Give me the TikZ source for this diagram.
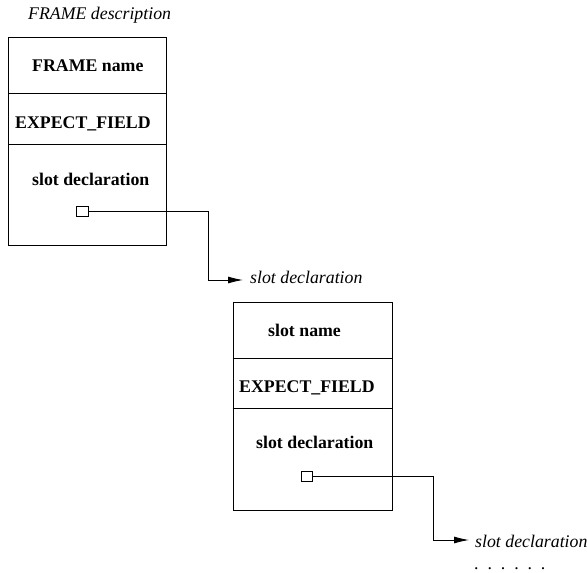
\documentclass[tikz,border=0pt]{standalone}
\usepackage{fontspec}
\setmainfont{Liberation Serif}
\usetikzlibrary{arrows.meta}
\begin{document}
\begin{tikzpicture}[x=1bp,y=-1bp,
  lbl/.style={inner sep=0pt,anchor=base west,font=\fontsize{17.8bp}{20bp}\selectfont\bfseries},
  ilbl/.style={inner sep=0pt,anchor=base west,font=\fontsize{17.8bp}{20bp}\selectfont\itshape},
  framebox/.style={draw,line width=0.9bp,inner sep=0pt,minimum width=158bp,minimum height=208bp},
  port/.style={draw,line width=0.9bp,inner sep=0pt,minimum width=11.5bp,minimum height=10bp},
  conn/.style={line width=0.9bp},
  arr/.style={line width=0.9bp,-{Latex[length=15bp,width=7bp]}}
]
\useasboundingbox (0,0) rectangle (587,573);
% first frame
\node[ilbl] (title) at (28,20) {FRAME description};
\node[framebox] (box1) at (87.5,141) {};
\draw[line width=0.9bp] (box1.west |- 0,93) -- (box1.east |- 0,93);
\draw[line width=0.9bp] (box1.west |- 0,144) -- (box1.east |- 0,144);
\node[lbl] (fname) at (32,72) {FRAME name};
\node[lbl] (ef1) at (15,129) {EXPECT\_FIELD};
\node[lbl] (sd1) at (32,185) {slot declaration};
\node[port] (sq1) at (82.5,211.7) {};
\coordinate (k1) at (208,280);
\coordinate (tip1) at (243,280);
\draw[conn] (sq1.east) -| (k1);
\draw[arr] (k1) -- (tip1);
\node[ilbl] (out1) at (250,283) {slot declaration};
% second frame
\node[framebox,minimum width=159bp] (box2) at (312.5,406) {};
\draw[line width=0.9bp] (box2.west |- 0,358) -- (box2.east |- 0,358);
\draw[line width=0.9bp] (box2.west |- 0,408) -- (box2.east |- 0,408);
\node[lbl] (sname) at (268,336) {slot name};
\node[lbl] (ef2) at (239,392) {EXPECT\_FIELD};
\node[lbl] (sd2) at (256,448) {slot declaration};
\node[port] (sq2) at (307,476) {};
\coordinate (k2) at (433,540);
\coordinate (tip2) at (469,540);
\draw[conn] (sq2.east) -| (k2);
\draw[arr] (k2) -- (tip2);
\node[ilbl] (out2) at (475,547) {slot declaration};
\node[inner sep=0pt,anchor=base west,font=\fontsize{17.8bp}{20bp}\selectfont] (dots) at (474,569) {.\hspace{8.9bp}.\hspace{8.9bp}.\hspace{8.9bp}.\hspace{8.9bp}.\hspace{8.9bp}.};
\end{tikzpicture}
\end{document}
